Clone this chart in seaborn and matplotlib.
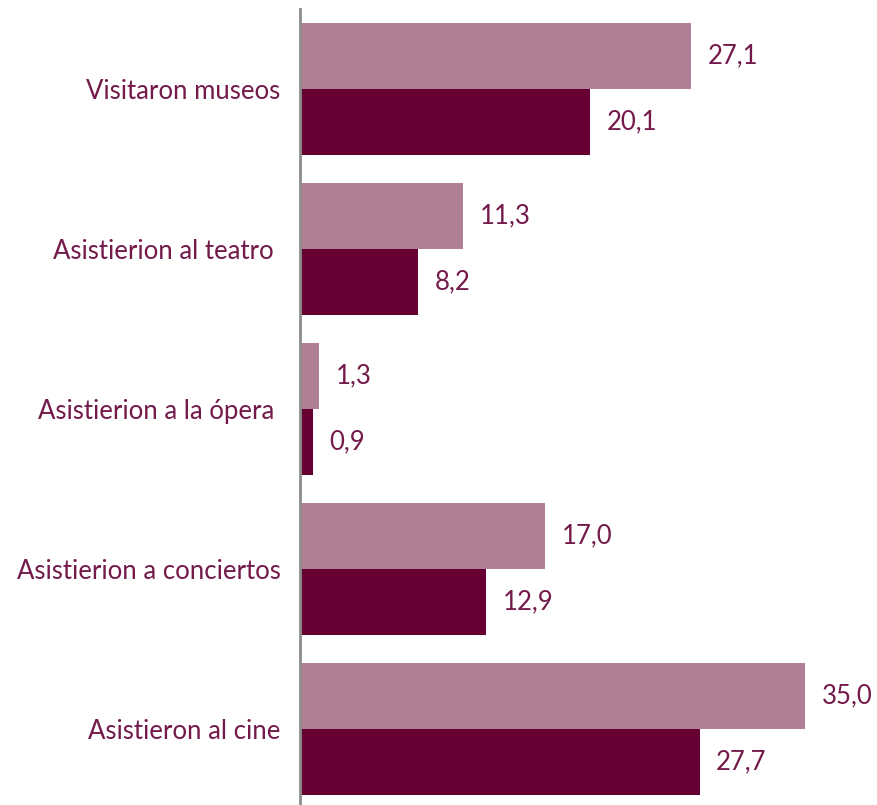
import numpy as np
import pandas as pd
import matplotlib.pyplot as plt
import seaborn as sns

categorias = ['Visitaron museos', 'Asistierion al teatro ', 'Asistierion a la ópera ',
              'Asistierion a conciertos', 'Asistieron al cine']
serie_a = [27.1, 11.3, 1.3, 17.0, 35.0]
serie_b = [20.1, 8.2, 0.9, 12.9, 27.7]
series = ['Serie A', 'Serie B']

df = pd.DataFrame({
    'categoria': categorias * 2,
    'valor': serie_a + serie_b,
    'serie': [series[0]] * 5 + [series[1]] * 5,
})

sns.set_style('white')
plt.rcParams['font.family'] = ['Lato', 'DejaVu Sans']
texto = '#731a4b'

fig = plt.figure(figsize=(8.77, 8.05), dpi=100)
ax = fig.add_axes([300 / 877, -4 / 805, 577 / 877, 800 / 805])

sns.barplot(data=df, y='categoria', x='valor', hue='serie', orient='h',
            palette=['#b07f96', '#660033'], width=0.825, gap=0,
            legend=False, ax=ax, saturation=1, linewidth=0)

for cont in ax.containers:
    ax.bar_label(cont, labels=[f'{v:.1f}'.replace('.', ',') for v in cont.datavalues],
                 padding=12, color=texto, fontsize=18.5)

ax.set_xlim(0, 40)
ax.set_ylim(4.5, -0.5)
ax.set_xlabel('')
ax.set_ylabel('')
ax.set_xticks([])
ax.tick_params(axis='y', length=0, pad=14, labelsize=18.5, labelcolor=texto)
for s in ['top', 'right', 'bottom']:
    ax.spines[s].set_visible(False)
ax.spines['left'].set_color('#8c8c8c')
ax.spines['left'].set_linewidth(2)

fig.savefig('out.png', dpi=100)
